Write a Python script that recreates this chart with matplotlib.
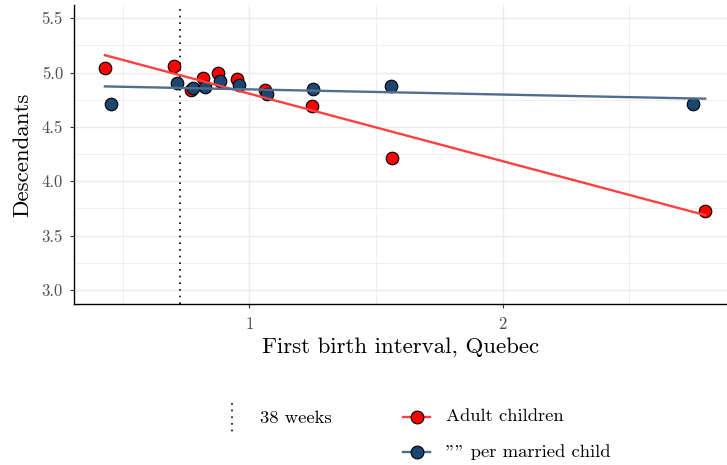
import numpy as np
import matplotlib
matplotlib.use("Agg")
import matplotlib.pyplot as plt
from matplotlib.lines import Line2D

plt.rcParams['font.family'] = ['cmr10', 'DejaVu Serif']
plt.rcParams['mathtext.fontset'] = 'cm'
plt.rcParams['axes.formatter.use_mathtext'] = True
plt.rcParams['axes.unicode_minus'] = False

# Data
adult_x = [0.430, 0.702, 0.768, 0.818, 0.875, 0.952, 1.063, 1.249, 1.563, 2.799]
adult_y = [5.040, 5.064, 4.843, 4.948, 4.996, 4.941, 4.837, 4.690, 4.217, 3.729]
married_x = [0.455, 0.715, 0.778, 0.826, 0.883, 0.959, 1.070, 1.253, 1.558, 2.749]
married_y = [4.715, 4.901, 4.862, 4.865, 4.926, 4.889, 4.803, 4.849, 4.880, 4.708]
weeks_38 = 38 * 7 / 365.25
x_ticks = [1, 2]
y_ticks = [3.0, 3.5, 4.0, 4.5, 5.0, 5.5]
labels = ["38 weeks", "Adult children", '"" per married child']

RED = "#ff0000"
RED_LINE = "#ff4040"
BLUE = "#1c4670"
BLUE_LINE = "#4f6d8d"

fig = plt.figure(figsize=(7.27, 4.65), dpi=100)
W, H = 727, 465
ax = fig.add_axes([74 / W, (H - 304) / H, (727 - 74) / W, (304 - 5) / H])

ax.set_xlim(0.308, 2.885)
ax.set_ylim(2.871, 5.622)

ax.set_xticks(x_ticks)
ax.set_xticklabels([str(t) for t in x_ticks])
ax.set_xticks([0.5, 1.5, 2.5], minor=True)
ax.set_yticks(y_ticks)
ax.set_yticklabels([f"{t:.1f}" for t in y_ticks])
ax.set_yticks([3.25, 3.75, 4.25, 4.75, 5.25], minor=True)

ax.grid(True, which='major', color='#ebebeb', lw=1.0)
ax.grid(True, which='minor', color='#ebebeb', lw=0.6)
ax.set_axisbelow(True)
for s in ['top', 'right']:
    ax.spines[s].set_visible(False)
for s in ['left', 'bottom']:
    ax.spines[s].set_color('black')
    ax.spines[s].set_linewidth(1.0)
ax.tick_params(which='major', length=3, width=0.8, color='#333333',
               labelsize=12, labelcolor='#4d4d4d')
ax.tick_params(axis='x', which='major', pad=6)
ax.tick_params(axis='y', which='major', pad=5)
ax.tick_params(which='minor', length=0)

ax.axvline(weeks_38, color='black', ls=(0, (1, 3)), lw=1.2, zorder=2)

xr = np.array([min(min(adult_x), min(married_x)), max(max(adult_x), max(married_x))])
ca = np.polyfit(adult_x, adult_y, 1)
cm_ = np.polyfit(married_x, married_y, 1)

ax.scatter(adult_x, adult_y, s=82, c=RED, edgecolors='black', linewidths=0.8, zorder=3)
ax.scatter(married_x, married_y, s=82, c=BLUE, edgecolors='black', linewidths=0.8, zorder=3)
ax.plot(xr, np.polyval(ca, xr), color=RED_LINE, lw=1.7, zorder=4)
ax.plot(xr, np.polyval(cm_, xr), color=BLUE_LINE, lw=1.7, zorder=4)

ax.set_xlabel("First birth interval, Quebec", fontsize=16.5, labelpad=4)
ax.set_ylabel("Descendants", fontsize=16.5, labelpad=7)

# Legend (manual layout)
def fx(px):
    return px / W

def fy(py):
    return 1 - py / H

fig.add_artist(Line2D([fx(231.7), fx(231.7)], [fy(403), fy(434)], color='black',
                      ls=(0, (1, 3)), lw=1.2))
fig.text(fx(260), fy(418), labels[0], fontsize=13.4, va='center', ha='left')

for yy, col, lcol, lab in [(416.7, RED, RED_LINE, labels[1]), (451.7, BLUE, BLUE_LINE, labels[2])]:
    fig.add_artist(Line2D([fx(403), fx(430)], [fy(yy), fy(yy)], color=lcol, lw=1.7))
    fig.add_artist(Line2D([fx(416.5)], [fy(yy)], marker='o', markersize=9.2,
                          markerfacecolor=col, markeredgecolor='black', markeredgewidth=0.8, ls='none'))
    fig.text(fx(446), fy(yy), lab, fontsize=13.4, va='center', ha='left')

fig.savefig("out.png", dpi=100)
